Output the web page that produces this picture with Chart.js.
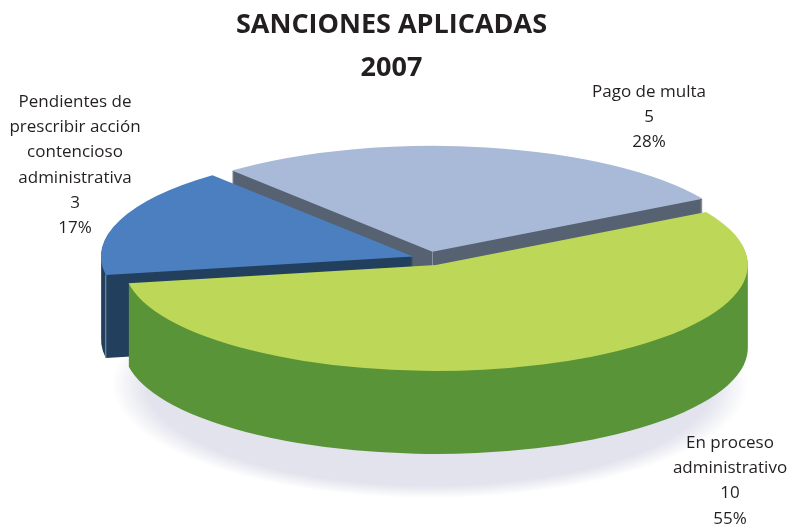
<!DOCTYPE html>
<html><head><meta charset="utf-8">
<style>html,body{margin:0;padding:0;background:#fff}canvas{display:block}</style>
<script src="https://cdn.jsdelivr.net/npm/chart.js@4/dist/chart.umd.min.js"></script>
</head><body>
<div style="width:792px;height:528px"><canvas id="c" width="792" height="528"></canvas></div>
<script>
const titleLines = ['SANCIONES APLICADAS', '2007'];
const categories = ['En proceso administrativo', 'Pendientes de prescribir acción contencioso administrativa', 'Pago de multa'];
const values = [10, 3, 5];
const topColors = ['#bdd758', '#4c7fbf', '#a9b9d8'];
const sideColors = ['#5a9439', '#223f5e', '#566171'];
const explode = [20, 17, 20];
const labelLines = [
  ['En proceso', 'administrativo', '10', '55%'],
  ['Pendientes de', 'prescribir acción', 'contencioso', 'administrativa', '3', '17%'],
  ['Pago de multa', '5', '28%']
];
const labelAnchors = [[730, 443], [75, 102], [649, 92]];
const FONT = '"Open Sans"';

const pie3d = {
  id: 'pie3d',
  beforeDatasetsDraw(chart) {
    const ctx = chart.ctx, arcs = chart.getDatasetMeta(0).data;
    const cx = 429, cy = 258.5, rx = 312, ry = 106, depth = 83;
    // soft ground shadow
    ctx.save();
    ctx.translate(430, 384);
    ctx.scale(1, 114 / 318);
    const g = ctx.createRadialGradient(0, 0, 0, 0, 0, 318);
    g.addColorStop(0, '#e2e3ed'); g.addColorStop(0.89, '#e2e3ed'); g.addColorStop(1, 'rgba(226,227,237,0)');
    ctx.fillStyle = g;
    ctx.beginPath(); ctx.arc(0, 0, 318, 0, Math.PI * 2); ctx.fill();
    ctx.restore();

    [2, 1, 0].forEach(i => {
      const a = arcs[i], mid = (a.startAngle + a.endAngle) / 2;
      const sx = rx / a.outerRadius, sy = ry / a.outerRadius;
      const ox = cx + Math.cos(mid) * explode[i];
      const oy = cy + Math.sin(mid) * explode[i] * ry / rx;
      // extruded walls: one union path, filled once
      ctx.beginPath();
      for (let d = depth; d > 0; d--) {
        ctx.save();
        ctx.translate(ox, oy + d);
        ctx.scale(sx, sy);
        ctx.moveTo(0, 0);
        ctx.arc(0, 0, a.outerRadius, a.startAngle, a.endAngle);
        ctx.closePath();
        ctx.restore();
      }
      ctx.fillStyle = sideColors[i];
      ctx.fill('nonzero');
      // pale edge line down the front corner
      if (i !== 0) {
        ctx.strokeStyle = i === 1 ? '#7f9bb5' : '#8b95a3';
        ctx.lineWidth = 1;
        const ex = i === 1 ? ox + Math.cos(a.startAngle) * rx : ox;
        const ey = i === 1 ? oy + Math.sin(a.startAngle) * ry : oy;
        ctx.beginPath(); ctx.moveTo(ex, ey); ctx.lineTo(ex, ey + depth); ctx.stroke();
      }
      // top face: the library's own arc element
      ctx.save();
      ctx.translate(ox, oy);
      ctx.scale(sx, sy);
      ctx.translate(-a.x, -a.y);
      a.draw(ctx);
      ctx.restore();
    });

    // data labels
    ctx.save();
    ctx.fillStyle = '#231f20';
    ctx.font = '17px ' + FONT;
    ctx.textAlign = 'center';
    ctx.textBaseline = 'middle';
    labelLines.forEach((lines, i) => {
      lines.forEach((t, k) => ctx.fillText(t, labelAnchors[i][0], labelAnchors[i][1] + k * 25.3));
    });
    ctx.restore();
    return false;
  }
};

new Chart(document.getElementById('c'), {
  type: 'pie',
  data: { labels: categories, datasets: [{ data: values, backgroundColor: topColors, borderWidth: 0 }] },
  options: {
    responsive: false,
    animation: false,
    rotation: 60,
    layout: { padding: { right: 9 } },
    plugins: {
      legend: { display: false },
      tooltip: { enabled: false },
      title: {
        display: true,
        text: titleLines,
        color: '#231f20',
        font: { family: FONT, size: 27, weight: 'bold', lineHeight: 1.6 },
        padding: { top: 4, bottom: 0 }
      }
    }
  },
  plugins: [pie3d]
});
</script>
</body></html>
